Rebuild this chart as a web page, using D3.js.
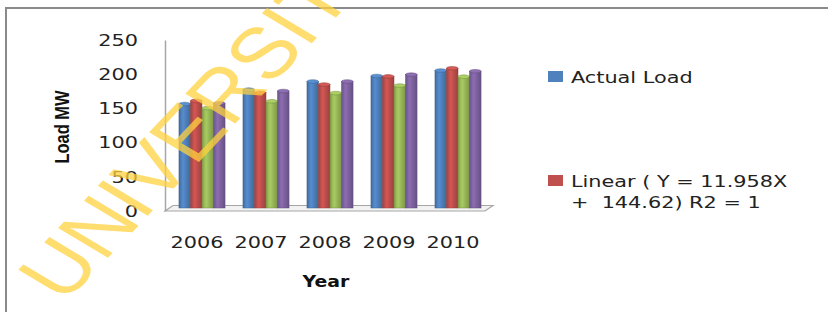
<!DOCTYPE html>
<html>
<head>
<meta charset="utf-8">
<script src="https://cdn.jsdelivr.net/npm/d3@7"></script>
<style>
  body { margin: 0; background: #fff; }
  text { white-space: pre; }
</style>
</head>
<body>
<script>
// data
var years = ['2006', '2007', '2008', '2009', '2010'];
var actualLoad = [152, 173, 185, 193, 201];
var linearLoad = [156.6, 168.5, 180.5, 192.4, 204.4];
var series3 = [146, 156, 168, 179, 192];
var series4 = [153, 171, 185, 195, 200];
var yTicks = [0, 50, 100, 150, 200, 250];
var seriesNames = ['Actual Load', 'Linear', 'Series 3', 'Series 4'];
var seriesColors = ['#4F81BD', '#C0504D', '#9BBB59', '#8064A2'];

var W = 828, H = 312;
var stretchK = 1.26; // the picture is stretched sideways

function stretch(sel, k) {
  sel.each(function() {
    var len = this.getComputedTextLength();
    d3.select(this).attr("textLength", len * k).attr("lengthAdjust", "spacingAndGlyphs");
  });
}

var svg = d3.select("body").append("svg")
  .attr("width", W)
  .attr("height", H);

// gradients for the cylinders
var defs = svg.append("defs");
seriesColors.forEach(function(c, i) {
  var g = defs.append("linearGradient").attr("id", "cyl" + i)
    .attr("x1", "0%").attr("x2", "100%").attr("y1", "0%").attr("y2", "0%");
  g.append("stop").attr("offset", "0%").attr("stop-color", d3.color(c).darker(0.5));
  g.append("stop").attr("offset", "35%").attr("stop-color", d3.color(c).brighter(0.25));
  g.append("stop").attr("offset", "100%").attr("stop-color", d3.color(c).darker(0.6));
});

// outer frame (runs off the edges)
svg.append("rect")
  .attr("x", 6).attr("y", 8)
  .attr("width", 900).attr("height", 400)
  .attr("fill", "none")
  .attr("stroke", "#8a8a8a")
  .attr("stroke-width", 2);

var xScale = d3.scaleBand()
  .domain(years)
  .range([165, 485])
  .paddingInner(0.28)
  .paddingOuter(0.14);

var yScale = d3.scaleLinear()
  .domain([0, 250])
  .range([211, 40]);

var xSub = d3.scaleBand()
  .domain(seriesNames)
  .range([0, xScale.bandwidth()]);

// 3d depth offsets
var bar3d = {dx: 5, dy: -3};
var back3d = {dx: 8, dy: -5.5};

// floor
var x0 = xScale.range()[0], x1 = xScale.range()[1], y0 = yScale(0);
svg.append("path")
  .attr("d", "M" + x0 + "," + y0 + "L" + x1 + "," + y0 +
    "L" + (x1 + back3d.dx) + "," + (y0 + back3d.dy) +
    "L" + (x0 + back3d.dx) + "," + (y0 + back3d.dy) + "Z")
  .attr("fill", "#f2f2f2")
  .attr("stroke", "#a6a6a6")
  .attr("stroke-width", 1.2);

// y axis
var yAxis = d3.axisLeft(yScale).tickValues(yTicks).tickSize(0).tickPadding(27);
var yg = svg.append("g")
  .attr("transform", "translate(" + x0 + ",0)")
  .call(yAxis);
yg.select(".domain").attr("stroke", "#a6a6a6").attr("stroke-width", 1.5);
yg.selectAll("text")
  .attr("font-family", "DejaVu Sans")
  .attr("font-size", 16.5)
  .attr("fill", "#222")
  .call(stretch, stretchK);

// x labels
var xg = svg.append("g")
  .attr("transform", "translate(0," + y0 + ")")
  .call(d3.axisBottom(xScale).tickSize(0));
xg.select(".domain").remove();
xg.selectAll("text")
  .attr("y", 37).attr("dy", 0)
  .attr("font-family", "DejaVu Sans")
  .attr("font-size", 16.5)
  .attr("fill", "#222")
  .call(stretch, stretchK);

// bars
var allData = [actualLoad, linearLoad, series3, series4];
var groups = svg.append("g")
  .attr("transform", "translate(" + bar3d.dx + "," + bar3d.dy + ")")
  .selectAll("g")
  .data(years)
  .enter().append("g")
  .attr("transform", function(d) { return "translate(" + xScale(d) + ",0)"; });

var bars = groups.selectAll("g")
  .data(function(d, j) {
    return seriesNames.map(function(s, i) { return {key: s, i: i, value: allData[i][j]}; });
  })
  .enter().append("g");

bars.append("rect")
  .attr("x", function(d) { return xSub(d.key); })
  .attr("y", function(d) { return yScale(d.value); })
  .attr("width", xSub.bandwidth())
  .attr("height", function(d) { return yScale(0) - yScale(d.value); })
  .attr("fill", function(d) { return "url(#cyl" + d.i + ")"; })
  .attr("stroke", function(d) { return d3.color(seriesColors[d.i]).darker(0.8); })
  .attr("stroke-width", 0.5);

bars.append("ellipse")
  .attr("cx", function(d) { return xSub(d.key) + xSub.bandwidth() / 2; })
  .attr("cy", function(d) { return yScale(d.value); })
  .attr("rx", xSub.bandwidth() / 2)
  .attr("ry", 1.8)
  .attr("fill", function(d) { return d3.color(seriesColors[d.i]).brighter(0.3); })
  .attr("stroke", function(d) { return d3.color(seriesColors[d.i]).darker(0.8); })
  .attr("stroke-width", 0.5);

// axis titles
svg.append("text")
  .attr("transform", "translate(69,127) scale(" + stretchK + ",1) rotate(-90)")
  .attr("text-anchor", "middle")
  .attr("font-family", "Liberation Sans")
  .attr("font-weight", "bold")
  .attr("font-size", 16.5)
  .attr("fill", "#111")
  .text("Load MW");

svg.append("text")
  .attr("x", 326).attr("y", 287)
  .attr("text-anchor", "middle")
  .attr("font-family", "DejaVu Sans")
  .attr("font-weight", "bold")
  .attr("font-size", 16)
  .attr("fill", "#111")
  .text("Year")
  .call(stretch, 1.18);

// legend (only two entries shown)
var legend = [
  {name: "Actual Load", color: seriesColors[0], y: 71, lines: ["Actual Load"]},
  {name: "Linear", color: seriesColors[1], y: 175, lines: ["Linear ( Y = 11.958X", "+  144.62) R2 = 1"]}
];
var lg = svg.append("g").selectAll("g").data(legend).enter().append("g");
lg.append("rect")
  .attr("x", 548).attr("y", function(d) { return d.y; })
  .attr("width", 15).attr("height", 11)
  .attr("fill", function(d) { return d.color; });
lg.each(function(d) {
  var g = d3.select(this);
  d.lines.forEach(function(l, k) {
    g.append("text")
      .attr("x", 571).attr("y", d.y + 11.5 + k * 21.5)
      .attr("font-family", "DejaVu Sans")
      .attr("font-size", 16.5)
      .attr("fill", "#222")
      .text(l)
      .call(stretch, stretchK);
  });
});

// watermark
svg.append("text")
  .attr("transform", "translate(64,304) scale(" + stretchK + ",1) rotate(-53)")
  .attr("font-family", "Liberation Sans")
  .attr("font-size", 72)
  .attr("fill", "#FFD23F")
  .attr("opacity", 0.75)
  .text("UNIVERSITY");
</script>
</body>
</html>
